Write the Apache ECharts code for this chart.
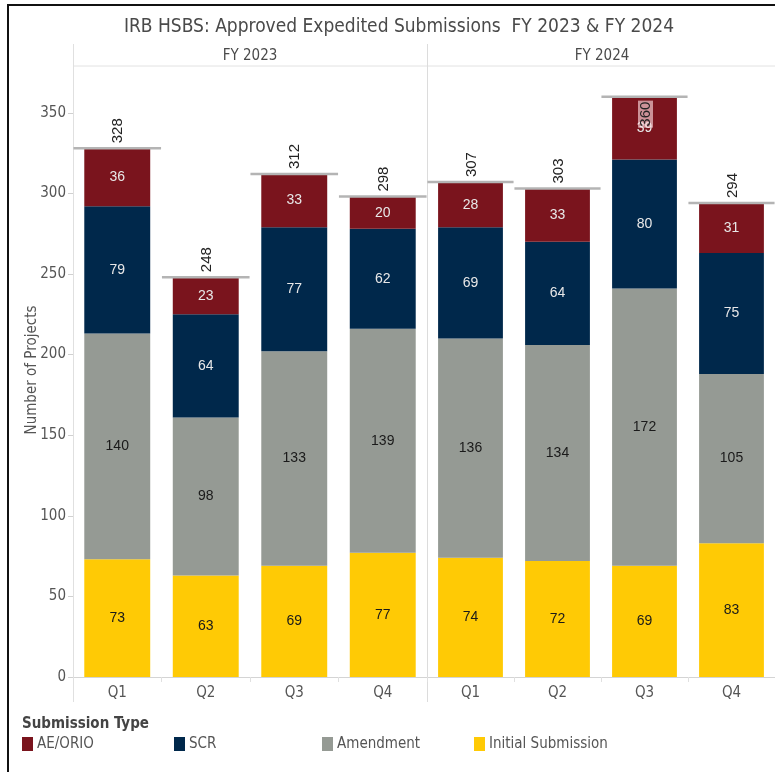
<!DOCTYPE html>
<html><head><meta charset="utf-8">
<script src="https://cdn.jsdelivr.net/npm/echarts@6/dist/echarts.min.js"></script>
<style>html,body{margin:0;padding:0;background:#fff}#c{width:775px;height:772px}</style>
</head><body><div id="c"></div><script>
const quarters = ['Q1', 'Q2', 'Q3', 'Q4'];
const years = ['FY 2023', 'FY 2024'];
const initial2023 = [73, 63, 69, 77];
const amendment2023 = [140, 98, 133, 139];
const scr2023 = [79, 64, 77, 62];
const aeorio2023 = [36, 23, 33, 20];
const initial2024 = [74, 72, 69, 83];
const amendment2024 = [136, 134, 172, 105];
const scr2024 = [69, 64, 80, 75];
const aeorio2024 = [28, 33, 39, 31];
const yTicks = [0, 50, 100, 150, 200, 250, 300, 350];
const typeNames = ['Initial Submission', 'Amendment', 'SCR', 'AE/ORIO'];
const legendOrder = ['AE/ORIO', 'SCR', 'Amendment', 'Initial Submission'];

const colors = {
  'Initial Submission': '#FFCA05',
  'Amendment': '#959A94',
  'SCR': '#00284B',
  'AE/ORIO': '#7A141D'
};
const labelColors = {
  'Initial Submission': '#1a1a1a',
  'Amendment': '#1a1a1a',
  'SCR': '#e8e8e8',
  'AE/ORIO': '#e8e8e8'
};
const dataByYear = [
  [initial2023, amendment2023, scr2023, aeorio2023],
  [initial2024, amendment2024, scr2024, aeorio2024]
];
const condensed = "'Liberation Sans Narrow','DejaVu Sans Condensed','Liberation Sans',sans-serif";
const arial = "'Liberation Sans',Arial,sans-serif";
const AXIS_MAX = 379;

const chart = echarts.init(document.getElementById('c'), null, {renderer: 'canvas'});

const grids = [
  {left: 73, top: 66, width: 354, height: 611},
  {left: 427, top: 66, width: 351, height: 611}
];

const xAxes = grids.map((g, i) => ({
  type: 'category', gridIndex: i, data: quarters,
  axisLine: {show: true, lineStyle: {color: '#d4d4d4', width: 1}},
  axisTick: {show: true, length: 5, lineStyle: {color: '#e0e0e0'}},
  axisLabel: {color: '#555', fontSize: 15, fontFamily: condensed, margin: 9},
  splitLine: {show: false}
}));
const yAxes = grids.map((g, i) => ({
  type: 'value', gridIndex: i, min: 0, max: AXIS_MAX, interval: 50,
  show: i === 0,
  axisLine: {show: true, lineStyle: {color: '#e0e0e0'}},
  axisTick: {show: true, length: 5, lineStyle: {color: '#d0d0d0'}},
  axisLabel: {color: '#555', fontSize: 15, fontFamily: condensed, margin: 7, showMaxLabel: false,
    formatter: v => yTicks.includes(v) ? String(v) : ''},
  splitLine: {show: false}
}));

const series = [];
dataByYear.forEach((arrs, gi) => {
  arrs.forEach((arr, ti) => {
    const name = typeNames[ti];
    series.push({
      type: 'bar', name, stack: 'y' + gi, xAxisIndex: gi, yAxisIndex: gi,
      data: arr, barWidth: '74.5%',
      itemStyle: {color: colors[name]},
      label: {show: true, position: 'inside', color: labelColors[name], fontSize: 14, fontFamily: arial},
      emphasis: {disabled: true}
    });
  });
  const totals = quarters.map((q, qi) => arrs.reduce((s, a) => s + a[qi], 0));
  series.push({
    type: 'custom', xAxisIndex: gi, yAxisIndex: gi, z: 10,
    data: totals.map((t, qi) => [qi, t]),
    encode: {x: 0, y: 1},
    renderItem: (params, api) => {
      const idx = api.value(0), tot = api.value(1);
      const p = api.coord([idx, tot]);
      const bw = api.size([1, 0])[0];
      const half = bw * 0.495;
      const inside = p[1] - 36 < params.coordSys.y;
      return {
        type: 'group',
        children: [
          {type: 'line', shape: {x1: p[0] - half, y1: p[1], x2: p[0] + half, y2: p[1]},
            style: {stroke: '#b4b4b4', lineWidth: 2.5}},
          {type: 'text', x: p[0] + 1, y: inside ? p[1] + 4 : p[1] - 5, rotation: Math.PI / 2,
            style: {text: String(tot), fill: '#222', font: '15px ' + arial,
              align: inside ? 'right' : 'left', verticalAlign: 'middle',
              backgroundColor: inside ? 'rgba(255,225,228,0.62)' : null,
              padding: inside ? [0, 1, 0, 1] : 0}}
        ]
      };
    }
  });
});

const graphics = [
  {type: 'polyline', shape: {points: [[8, 772], [8, 5], [775, 5]]}, style: {stroke: '#111', lineWidth: 2, fill: null}},
  {type: 'text', x: 399, y: 27, style: {text: 'IRB HSBS: Approved Expedited Submissions  FY 2023 & FY 2024',
    fill: '#4a4a4a', font: '19px ' + condensed, align: 'center', verticalAlign: 'middle'}},
  {type: 'text', x: 250, y: 56, style: {text: years[0], fill: '#4a4a4a', font: '15px ' + condensed, align: 'center', verticalAlign: 'middle'}},
  {type: 'text', x: 602, y: 56, style: {text: years[1], fill: '#4a4a4a', font: '15px ' + condensed, align: 'center', verticalAlign: 'middle'}},
  {type: 'line', shape: {x1: 73, y1: 66, x2: 775, y2: 66}, style: {stroke: '#e2e2e2', lineWidth: 1}},
  {type: 'line', shape: {x1: 73.5, y1: 44, x2: 73.5, y2: 702}, style: {stroke: '#e0e0e0', lineWidth: 1}},
  {type: 'line', shape: {x1: 427.5, y1: 44, x2: 427.5, y2: 702}, style: {stroke: '#dcdcdc', lineWidth: 1}},
  {type: 'text', x: 32, y: 370, rotation: Math.PI / 2, style: {text: 'Number of Projects', fill: '#555',
    font: '15px ' + condensed, align: 'center', verticalAlign: 'middle'}},
  {type: 'text', x: 22, y: 724, style: {text: 'Submission Type', fill: '#444', font: 'bold 15px ' + condensed, align: 'left', verticalAlign: 'middle'}}
];
const legendX = [22, 174, 322, 474];
legendOrder.forEach((name, i) => {
  graphics.push({type: 'rect', shape: {x: legendX[i], y: 737, width: 11, height: 14}, style: {fill: colors[name]}});
  graphics.push({type: 'text', x: legendX[i] + 15, y: 744, style: {text: name, fill: '#555', font: '15px ' + condensed, align: 'left', verticalAlign: 'middle'}});
});

chart.setOption({
  animation: false,
  grid: grids,
  xAxis: xAxes,
  yAxis: yAxes,
  series,
  graphic: graphics
});
</script></body></html>
